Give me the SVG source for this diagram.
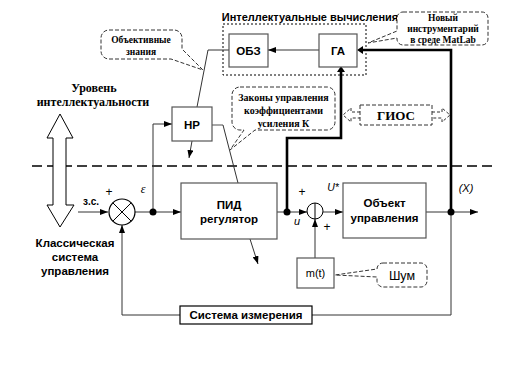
<svg xmlns="http://www.w3.org/2000/svg" width="517" height="374" viewBox="0 0 517 374">
<style>
.box{fill:#fff;stroke:#555;stroke-width:1.2}
.bk{fill:#fff;stroke:#000;stroke-width:1.2}
.ln{fill:none;stroke:#333;stroke-width:1}
.gr{fill:none;stroke:#777;stroke-width:1.3}
.thick{fill:none;stroke:#000;stroke-width:2.6}
.call{fill:#fff;stroke:#333;stroke-width:1;stroke-dasharray:4,2}
.sb{font-family:"Liberation Sans",Arial,sans-serif;font-weight:bold;fill:#000}
.s{font-family:"Liberation Sans",Arial,sans-serif;fill:#000}
.si{font-family:"Liberation Sans",Arial,sans-serif;font-style:italic;fill:#000}
.rb{font-family:"Liberation Serif","Times New Roman",serif;font-weight:bold;fill:#000}
</style>
<defs>
<marker id="ar" viewBox="0 0 8 6" refX="8" refY="3" markerWidth="8" markerHeight="6" markerUnits="userSpaceOnUse" orient="auto">
<path d="M0,0 L8,3 L0,6 Z" fill="#000"/>
</marker>
</defs>

<!-- divider -->
<line x1="32" y1="166" x2="493" y2="166" stroke="#000" stroke-width="1.5" stroke-dasharray="10,5"/>

<!-- level arrow -->
<g id="level-arrow">
<polygon points="60,114 73,138 66,138 66,205 74,205 60,227 47,205 53,205 53,138 47,138" fill="#fff" stroke="#000" stroke-width="1"/>
</g>
<g id="level-text">
<text class="rb" x="94" y="92" font-size="12" text-anchor="middle">Уровень</text>
<text class="rb" x="93" y="106" font-size="12" text-anchor="middle">интеллектуальности</text>
</g>
<g id="classic-text">
<text class="sb" x="75" y="247" font-size="11.5" text-anchor="middle">Классическая</text>
<text class="sb" x="75" y="261" font-size="11.5" text-anchor="middle">система</text>
<text class="sb" x="75" y="275" font-size="11.5" text-anchor="middle">управления</text>
</g>

<!-- intelligent computing group -->
<g id="intel">
<text class="sb" x="310" y="21" font-size="11" text-anchor="middle">Интеллектуальные вычисления</text>
<rect x="223" y="24" width="143" height="51" fill="none" stroke="#000" stroke-width="1" stroke-dasharray="2,2"/>
</g>

<!-- connectors -->
<g id="connectors">
<line class="ln" x1="78" y1="212" x2="108" y2="212" stroke-width="1.8" marker-end="url(#ar)"/>
<line class="gr" x1="135" y1="212" x2="181" y2="212" marker-end="url(#ar)"/>
<path class="ln" d="M153,212 V124 H172" marker-end="url(#ar)"/>
<path class="ln" d="M197,107 L208,50 H229"/>
<line class="gr" x1="319" y1="50" x2="268" y2="50" marker-end="url(#ar)"/>
<line class="ln" x1="192" y1="141" x2="189" y2="158" marker-end="url(#ar)"/>
<path class="gr" d="M212,125 H223"/>
<path class="ln" d="M223,125 L238,183"/>
<line class="ln" x1="250" y1="239" x2="258" y2="264" marker-end="url(#ar)"/>
<line class="ln" x1="277" y1="212" x2="307" y2="212" marker-end="url(#ar)"/>
<path class="thick" d="M287,212 V138 H341 V69"/>
<path d="M337,72 L341,66 L345,72 Z" fill="#000"/>
<line class="ln" x1="323" y1="212" x2="343" y2="212" marker-end="url(#ar)"/>
<line class="ln" x1="426" y1="212" x2="478" y2="212" marker-end="url(#ar)"/>
<path class="thick" d="M451,212 V50 H360"/>
<path d="M363,46 L357,50 L363,54 Z" fill="#000"/>
<line class="ln" x1="315" y1="258" x2="315" y2="219" marker-end="url(#ar)"/>
<path class="ln" d="M451,212 V315 H312"/>
<path class="ln" d="M180,315 H122 V225" marker-end="url(#ar)"/>
<circle cx="153" cy="212" r="3.5" fill="#000"/>
<circle cx="287" cy="212" r="3.5" fill="#000"/>
<circle cx="451" cy="212" r="3.5" fill="#000"/>
</g>

<!-- nodes -->
<g id="obz">
<rect class="box" x="229" y="34" width="39" height="33"/>
<text class="sb" x="248.5" y="55" font-size="11.5" text-anchor="middle">ОБЗ</text>
</g>
<g id="ga">
<rect class="box" x="319" y="34" width="38" height="33"/>
<text class="sb" x="338" y="55" font-size="11.5" text-anchor="middle">ГА</text>
</g>
<g id="nr">
<rect class="box" x="172" y="107" width="40" height="34"/>
<text class="sb" x="192" y="129" font-size="11.5" text-anchor="middle">НР</text>
</g>
<g id="pid">
<rect class="box" x="181" y="183" width="96" height="56"/>
<text class="sb" x="229" y="209" font-size="11.5" text-anchor="middle">ПИД</text>
<text class="sb" x="229" y="223" font-size="11.5" text-anchor="middle">регулятор</text>
</g>
<g id="sum1">
<circle cx="122" cy="212" r="13" fill="#fff" stroke="#000" stroke-width="1.2"/>
<path d="M112.8,202.8 L131.2,221.2 M131.2,202.8 L112.8,221.2" stroke="#000" stroke-width="1"/>
</g>
<g id="sum2">
<circle cx="315" cy="211" r="8" fill="none" stroke="#000" stroke-width="1"/>
<path d="M315,203 V219" stroke="#000" stroke-width="1"/>
</g>
<g id="object">
<rect class="box" x="343" y="183" width="83" height="55"/>
<text class="sb" x="384.5" y="207" font-size="11.5" text-anchor="middle">Объект</text>
<text class="sb" x="384.5" y="222" font-size="11.5" text-anchor="middle">управления</text>
</g>
<g id="mt">
<rect class="box" x="297" y="258" width="37" height="30"/>
<text class="s" x="315.5" y="277" font-size="11" text-anchor="middle">m(t)</text>
</g>
<g id="meas">
<rect class="bk" x="180" y="306" width="132" height="18"/>
<text class="sb" x="246" y="319" font-size="11.5" text-anchor="middle">Система измерения</text>
</g>

<!-- labels -->
<g id="labels">
<text class="sb" x="91" y="205" font-size="10" text-anchor="middle">з.с.</text>
<text class="s" x="109" y="196" font-size="12" text-anchor="middle">+</text>
<text x="143" y="193" font-family="Liberation Serif,serif" font-style="italic" font-size="12" text-anchor="middle">ε</text>
<text class="s" x="302" y="196" font-size="12" text-anchor="middle">+</text>
<text class="si" x="297" y="225" font-size="11" text-anchor="middle">u</text>
<text class="s" x="327" y="231" font-size="12" text-anchor="middle">+</text>
<text class="si" x="333" y="191" font-size="10.5" text-anchor="middle">U*</text>
<text class="si" x="466" y="192" font-size="11" text-anchor="middle">(X)</text>
</g>

<!-- callouts -->
<g id="callout-obj">
<path class="call" d="M109,30 H174 A8,8 0 0 1 182,38 V49 L203,70 L171,59 H109 A8,8 0 0 1 101,51 V38 A8,8 0 0 1 109,30 Z"/>
<text class="rb" x="141" y="43" font-size="9.5" text-anchor="middle">Объективные</text>
<text class="rb" x="141" y="55" font-size="9.5" text-anchor="middle">знания</text>
</g>
<g id="callout-new">
<path class="call" d="M403,12 H482 A6,6 0 0 1 488,18 V39 A6,6 0 0 1 482,45 H403 A6,6 0 0 1 397,39 V38 L368,43 L397,31 V18 A6,6 0 0 1 403,12 Z"/>
<text class="rb" x="443" y="21" font-size="9.5" text-anchor="middle">Новый</text>
<text class="rb" x="443" y="32" font-size="9.5" text-anchor="middle">инструментарий</text>
<text class="rb" x="443" y="43" font-size="9.5" text-anchor="middle">в среде MatLab</text>
</g>
<g id="callout-laws">
<path class="call" d="M240,87 H327 A8,8 0 0 1 335,95 V122 A8,8 0 0 1 327,130 H255 L230,150 L244,130 H240 A8,8 0 0 1 232,122 V95 A8,8 0 0 1 240,87 Z"/>
<text class="rb" x="283.5" y="101" font-size="10" text-anchor="middle">Законы управления</text>
<text class="rb" x="283.5" y="114" font-size="10" text-anchor="middle">коэффициентами</text>
<text class="rb" x="283.5" y="127" font-size="10" text-anchor="middle">усиления  К</text>
</g>
<g id="callout-noise">
<path class="call" d="M383,263 H421 A6,6 0 0 1 427,269 V281 A6,6 0 0 1 421,287 H383 A6,6 0 0 1 377,281 V277 L335,275 L377,269 A6,6 0 0 1 383,263 Z"/>
<text class="s" x="402" y="280" font-size="12.5" text-anchor="middle">Шум</text>
</g>
<g id="gios">
<rect x="360" y="105" width="72" height="20" fill="#fff" stroke="#333" stroke-width="1" stroke-dasharray="4,2"/>
<text class="rb" x="396" y="120" font-size="13" text-anchor="middle">ГИОС</text>
<path d="M360,112 H351 V108 L343,115 L351,122 V118 H360" fill="none" stroke="#333" stroke-width="1" stroke-dasharray="3,2"/>
<path d="M432,112 H442 V108 L450,115 L442,122 V118 H432" fill="none" stroke="#333" stroke-width="1" stroke-dasharray="3,2"/>
</g>
</svg>
